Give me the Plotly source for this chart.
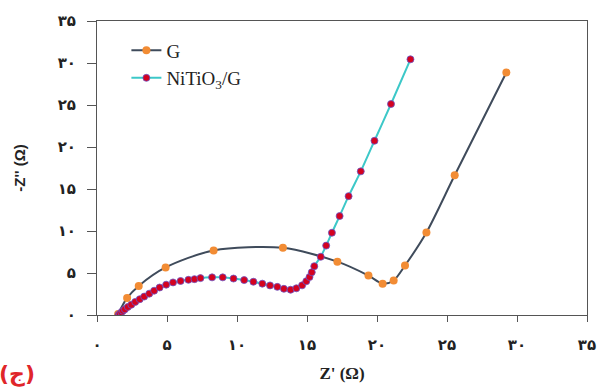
import plotly.graph_objects as go

# Nyquist data: Z' (real) and -Z'' (imaginary), in ohms
g_zre = [1.51, 2.15, 2.98, 4.90, 8.33, 13.28, 17.17, 19.39, 20.40, 21.19, 22.00, 23.53, 25.55, 29.24]
g_zim = [0.12, 2.03, 3.46, 5.66, 7.69, 8.00, 6.35, 4.69, 3.73, 4.11, 5.89, 9.82, 16.63, 28.87]

nt_zre = [1.53, 1.63, 1.74, 1.85, 1.99, 2.20, 2.45, 2.73, 3.05, 3.37, 3.73, 4.08, 4.47, 4.94,
          5.43, 5.97, 6.53, 6.96, 7.39, 8.22, 8.98, 9.75, 10.51, 11.17, 11.81, 12.36, 12.88,
          13.35, 13.83, 14.24, 14.65, 14.95, 15.18, 15.34, 15.52, 15.98, 16.37, 16.78, 17.33,
          17.97, 18.84, 19.82, 21.00, 22.39]
nt_zim = [0.00, 0.15, 0.32, 0.50, 0.67, 0.96, 1.22, 1.56, 1.88, 2.19, 2.54, 2.89, 3.27, 3.61,
          3.88, 4.05, 4.19, 4.27, 4.39, 4.48, 4.48, 4.34, 4.16, 3.96, 3.73, 3.52, 3.35,
          3.12, 3.01, 3.18, 3.53, 4.02, 4.52, 5.09, 5.81, 6.93, 8.26, 9.79, 11.78,
          14.15, 17.10, 20.74, 25.12, 30.44]

tick_vals = [0, 5, 10, 15, 20, 25, 30, 35]
tick_text = ["۰", "۵", "۱۰", "۱۵", "۲۰", "۲۵", "۳۰", "۳۵"]

fig = go.Figure()

fig.add_trace(go.Scatter(
    x=g_zre, y=g_zim, name="G", mode="lines+markers",
    line=dict(color="#3f4b5b", width=2, shape="spline", smoothing=0.8),
    marker=dict(color="#f28c34", size=8, line=dict(width=0)),
))

fig.add_trace(go.Scatter(
    x=nt_zre, y=nt_zim, name="NiTiO<sub>3</sub>/G", mode="lines+markers",
    line=dict(color="#3cc8c8", width=2, shape="spline", smoothing=0.6),
    marker=dict(color="#d4021f", size=7, line=dict(color="#6a56c8", width=0.8)),
))

axis_common = dict(
    range=[0, 35], tickvals=tick_vals, ticktext=["<b>%s</b>" % t for t in tick_text],
    showgrid=False, zeroline=False, showline=True, linecolor="#555555", linewidth=1,
    mirror=True, ticks="outside", tickcolor="#555555",
    tickfont=dict(family="DejaVu Sans", size=15, color="#222222"),
)

fig.update_xaxes(
    **axis_common, ticklen=6, ticklabelstandoff=10,
    title=dict(text="<b>Z' (Ω)</b>", font=dict(family="Liberation Serif", size=17, color="#222222"),
               standoff=14),
)
fig.update_yaxes(
    **axis_common, ticklen=9, ticklabelstandoff=8,
    title=dict(text="<b>-Z'' (Ω)</b>", font=dict(family="Liberation Sans", size=15, color="#222222"),
               standoff=28),
)

fig.add_annotation(
    text="<b>(ج)</b>", xref="paper", yref="paper", x=-0.205, y=-0.2,
    xanchor="left", yanchor="middle", showarrow=False,
    font=dict(family="DejaVu Sans", size=22, color="#e0262a"),
)

fig.update_layout(
    width=608, height=392,
    margin=dict(l=97, r=18, t=17, b=74),
    paper_bgcolor="white", plot_bgcolor="white",
    showlegend=True,
    legend=dict(x=0.06, y=0.965, xanchor="left", yanchor="top",
                bgcolor="rgba(0,0,0,0)", tracegroupgap=0, itemwidth=30,
                font=dict(family="Liberation Serif", size=19, color="#222222")),
)

fig.write_html("out.html")
